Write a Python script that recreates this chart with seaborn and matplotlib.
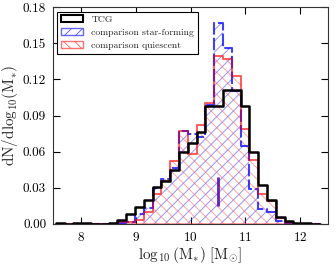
import numpy as np
import pandas as pd
import seaborn as sns
from matplotlib import pyplot as plt
from matplotlib.patches import Patch

# Histogram bin edges (log10 stellar mass)
bin_edges = [7.55, 7.71, 7.87, 8.03, 8.19, 8.35, 8.51, 8.67, 8.83, 8.99, 9.15,
             9.31, 9.47, 9.63, 9.79, 9.95, 10.11, 10.27, 10.43, 10.59, 10.75,
             10.91, 11.07, 11.23, 11.39, 11.55, 11.71, 11.87, 12.03, 12.19, 12.35]

# Fraction per bin
tcg = [0.0005, 0.0003, 0.0008, 0.0008, 0.0002, 0.0003, 0.001, 0.0035, 0.008, 0.014,
       0.020, 0.031, 0.036, 0.045, 0.060, 0.067, 0.076, 0.098, 0.098, 0.111,
       0.111, 0.098, 0.060, 0.032, 0.020, 0.0055, 0.002, 0.001, 0.0005, 0.0]
star_forming = [0, 0, 0, 0, 0, 0, 0, 0.0005, 0.0017, 0.008,
                0.013, 0.030, 0.037, 0.046, 0.077, 0.075, 0.072, 0.099, 0.167, 0.146,
                0.110, 0.065, 0.029, 0.012, 0.010, 0.002, 0.001, 0, 0, 0]
quiescent = [0, 0, 0, 0, 0, 0, 0, 0.0017, 0.0017, 0.003,
             0.010, 0.025, 0.036, 0.052, 0.077, 0.058, 0.082, 0.100, 0.139, 0.137,
             0.123, 0.079, 0.053, 0.025, 0.019, 0.0047, 0.0005, 0, 0, 0]

# Median marker
median_x = 10.5
median_range = (0.015, 0.039)

x_ticks = [8, 9, 10, 11, 12]
y_ticks = [0.00, 0.03, 0.06, 0.09, 0.12, 0.15, 0.18]

sns.set_style('ticks')
plt.rcParams['font.family'] = 'serif'
plt.rcParams['font.serif'] = ['cmr10', 'DejaVu Serif']
plt.rcParams['mathtext.fontset'] = 'cm'
plt.rcParams['axes.formatter.use_mathtext'] = True
plt.rcParams['hatch.linewidth'] = 0.7

edges = np.array(bin_edges)
df = pd.DataFrame({'mass': 0.5 * (edges[:-1] + edges[1:]),
                   'tcg': tcg, 'sf': star_forming, 'q': quiescent})

fig = plt.figure(figsize=(3.36, 2.64), dpi=100)
ax = fig.add_axes([0.158, 0.152, 0.818, 0.821])

# star-forming: blue hatched
sns.histplot(data=df, x='mass', weights='sf', bins=bin_edges, element='step', fill=True,
             color='blue', facecolor='none', edgecolor=(0.3, 0.3, 1.0, 0.6), hatch='///',
             linewidth=0, ax=ax)
sns.histplot(data=df, x='mass', weights='sf', bins=bin_edges, element='step', fill=False,
             color='blue', alpha=0.75, linewidth=1.5, linestyle=(0, (6, 1.5)), ax=ax)
# quiescent: red hatched
sns.histplot(data=df, x='mass', weights='q', bins=bin_edges, element='step', fill=True,
             color='red', facecolor='none', edgecolor=(1.0, 0.35, 0.35, 0.55), hatch='\\\\\\',
             linewidth=1.5, ax=ax)
sns.histplot(data=df, x='mass', weights='q', bins=bin_edges, element='step', fill=False,
             color='red', alpha=0.5, linewidth=1.2, ax=ax)
# TCG: black step line
sns.histplot(data=df, x='mass', weights='tcg', bins=bin_edges, element='step', fill=False,
             color='black', linewidth=1.8, ax=ax)

ax.vlines(median_x, *median_range, color='blue', linewidth=2, alpha=0.8)
ax.vlines(median_x, *median_range, color='red', linewidth=1, alpha=0.5)

ax.set_xlim(7.5, 12.5)
ax.set_ylim(0, 0.18)
ax.set_xticks(x_ticks)
ax.set_yticks(y_ticks)
ax.set_yticklabels([f'{v:.2f}' for v in y_ticks])
ax.tick_params(direction='in', top=True, right=True, length=5, width=0.8,
               labelsize=9.5, colors='black', pad=5)
for s in ax.spines.values():
    s.set_linewidth(0.8)
    s.set_color('#333333')

ax.set_xlabel(r'$\log_{10}(\mathrm{M}_{*})\ [\mathrm{M}_{\odot}]$', fontsize=11, labelpad=1)
ax.set_ylabel(r'$\mathrm{d}\tilde{\mathrm{N}}/\mathrm{dlog}_{10}(\mathrm{M}_{*})$', fontsize=11)
ax.yaxis.set_label_coords(-0.115, 0.5)

handles = [Patch(facecolor='none', edgecolor='black', linewidth=1.5),
           Patch(facecolor='none', edgecolor=(0.25, 0.25, 1.0, 0.8), hatch='///'),
           Patch(facecolor='none', edgecolor=(1.0, 0.3, 0.3, 0.8), hatch='\\\\\\')]
labels = ['TCG', 'comparison star-forming', 'comparison quiescent']
leg = ax.legend(handles, labels, loc='upper left', fontsize=7.0, fancybox=False,
                frameon=True, edgecolor='black', handlelength=2.2, handleheight=0.65,
                handletextpad=0.9, borderaxespad=0.45, labelspacing=0.45, framealpha=1)
leg.get_frame().set_linewidth(0.8)

plt.savefig('out.png', dpi=100)
